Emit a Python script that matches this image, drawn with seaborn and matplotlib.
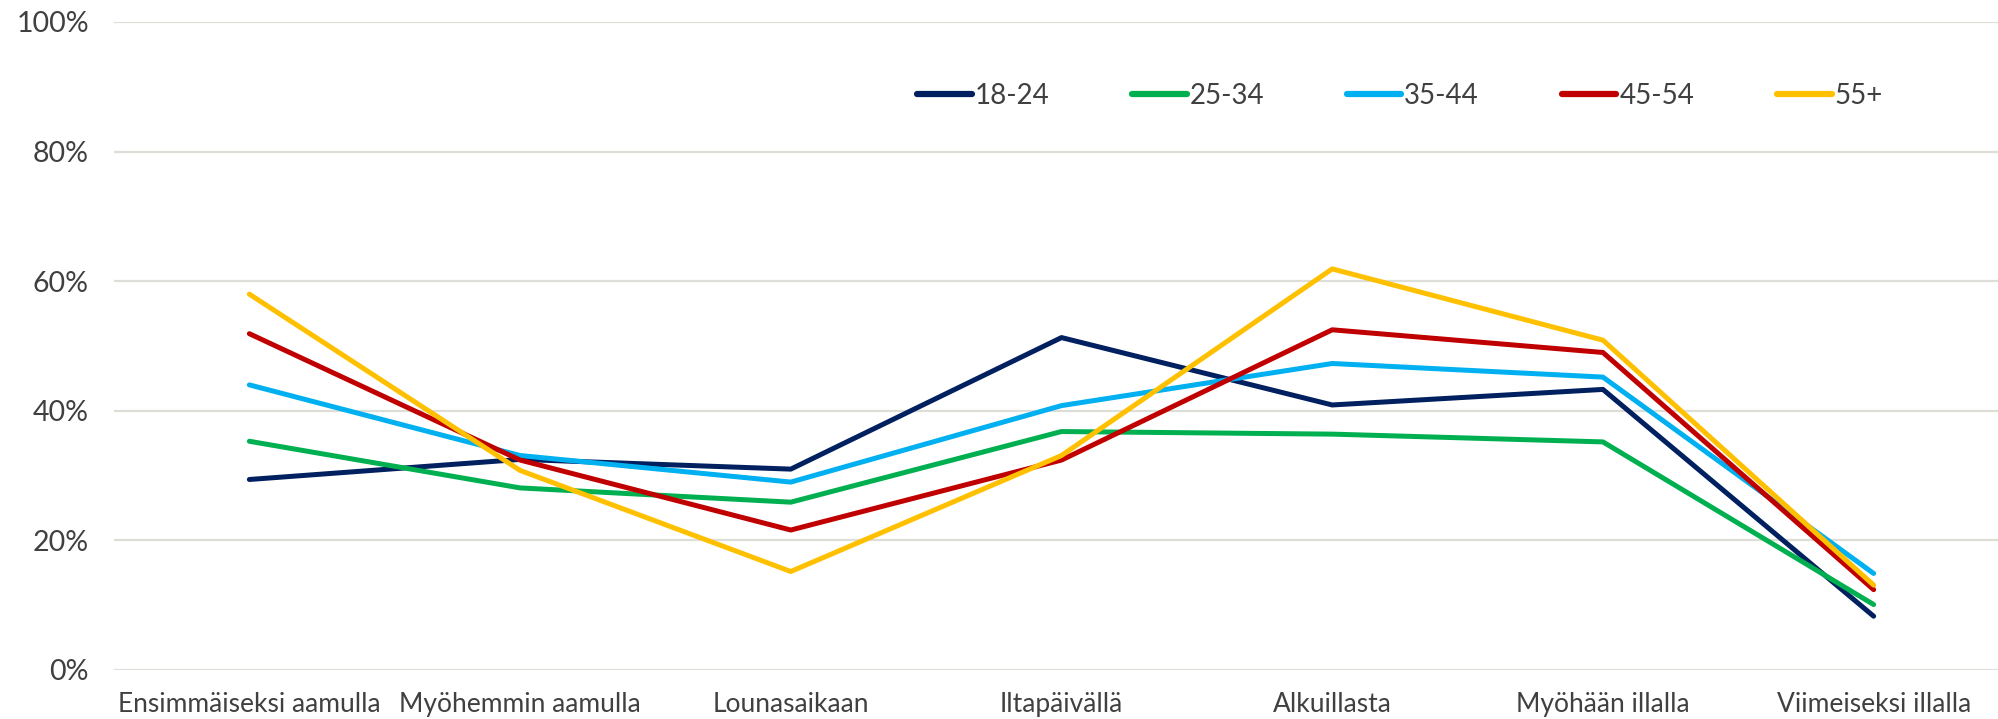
import matplotlib
matplotlib.use("Agg")
import matplotlib.pyplot as plt
import seaborn as sns
import pandas as pd
from matplotlib.ticker import FuncFormatter

categories = ["Ensimmäiseksi aamulla", "Myöhemmin aamulla", "Lounasaikaan",
              "Iltapäivällä", "Alkuillasta", "Myöhään illalla", "Viimeiseksi illalla"]
groups = ["18-24", "25-34", "35-44", "45-54", "55+"]
v_18_24 = [29.4, 32.5, 31.0, 51.3, 40.9, 43.3, 8.3]
v_25_34 = [35.3, 28.1, 25.9, 36.8, 36.4, 35.2, 10.1]
v_35_44 = [44.0, 33.1, 29.0, 40.8, 47.3, 45.2, 14.9]
v_45_54 = [51.9, 32.4, 21.6, 32.4, 52.5, 49.0, 12.4]
v_55 = [58.0, 30.8, 15.2, 33.1, 61.9, 50.9, 13.1]
colors = ["#002060", "#00B050", "#00B0F0", "#C00000", "#FFC000"]
yticks = [0, 20, 40, 60, 80, 100]

series = [v_18_24, v_25_34, v_35_44, v_45_54, v_55]
rows = []
for g, vals in zip(groups, series):
    for c, v in zip(categories, vals):
        rows.append({"cat": c, "group": g, "value": v})
df = pd.DataFrame(rows)

sns.set_style("white")
plt.rcParams["font.family"] = ["Lato", "DejaVu Sans"]
text_color = "#404040"

fig = plt.figure(figsize=(19.99, 7.19), dpi=100)
W, H = 1999, 719
left, right, top, bottom = 114, 2009, 22, 670
ax = fig.add_axes([left / W, 1 - bottom / H, (right - left) / W, (bottom - top) / H])

sns.lineplot(data=df, x="cat", y="value", hue="group", hue_order=groups,
             palette=colors, linewidth=3.6, sort=False, ax=ax, legend=True)

ax.set_xlim(-0.5, 6.5)
ax.set_ylim(0, 100)
ax.set_yticks(yticks)
ax.yaxis.set_major_formatter(FuncFormatter(lambda v, p: f"{v:.0f}%"))
ax.grid(axis="y", color="#DEDED8", linewidth=1.6)
ax.grid(axis="x", visible=False)
ax.set_axisbelow(True)
for s in ax.spines.values():
    s.set_visible(False)
ax.tick_params(axis="both", length=0, colors=text_color)
ax.tick_params(axis="y", pad=18, labelsize=20.5)
ax.tick_params(axis="x", pad=16, labelsize=19)
ax.set_xlabel("")
ax.set_ylabel("")

leg = ax.legend(loc="center", bbox_to_anchor=(1400 / W, 1 - 96 / H),
                bbox_transform=fig.transFigure, ncol=5, frameon=False,
                fontsize=20, handlelength=1.95, handletextpad=0.1,
                columnspacing=3.0)
for t in leg.get_texts():
    t.set_color(text_color)
for h in leg.get_lines():
    h.set_linewidth(4.5)
    h.set_solid_capstyle("round")

fig.savefig("out.png", dpi=100)
